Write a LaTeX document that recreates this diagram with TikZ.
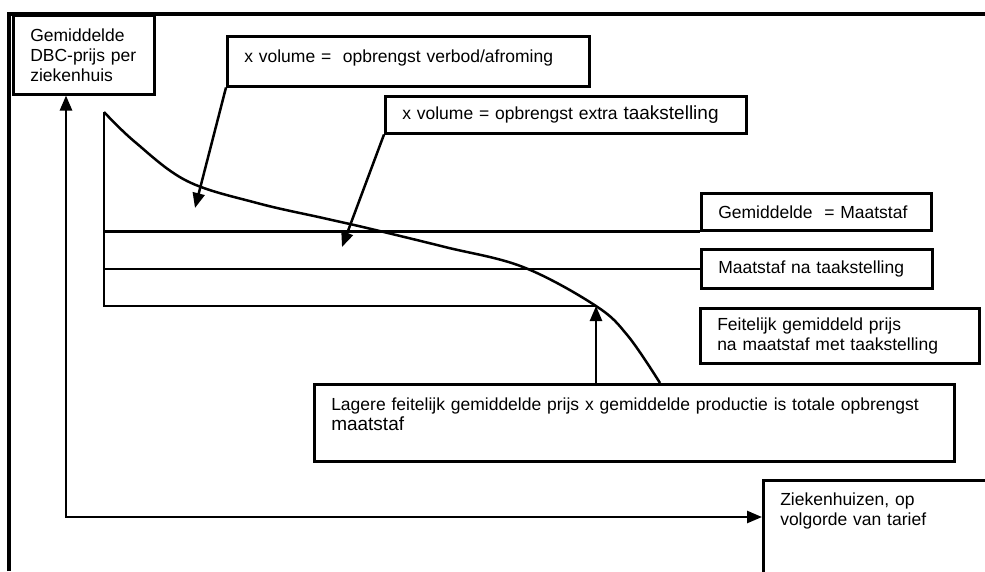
\documentclass[tikz,border=0pt]{standalone}
\usepackage{fontspec}
\setmainfont{Liberation Sans}
\usetikzlibrary{arrows,arrows.meta,positioning,calc}

\begin{document}
\begin{tikzpicture}
[x=1pt,y=-1pt,>={Triangle[length=15pt,width=12pt]},
every node/.style={font=\fontsize{17.5}{20}\selectfont},
vak/.style={draw=black,fill=white,line width=2.5pt,anchor=north west,align=left,inner xsep=17pt,inner ysep=0pt},
lijn/.style={line width=2.5pt},
pijl/.style={line width=2.5pt,->}]
\useasboundingbox[fill=white] (0,0) rectangle (985,571);
\draw[line width=4pt] (9,571) -- (9,14) -- (985,14);
\node[vak,text width=107pt,minimum height=79pt] (prijs) at (12,14) {Gemiddelde\\DBC-prijs per\\ziekenhuis};
\node[vak,text width=328pt,minimum height=50pt,text depth=10pt] (vol1) at (226,35) {x volume =\ \ opbrengst verbod/afroming};
\node[vak,text width=327pt,minimum height=37pt] (vol2) at (384,95) {x volume = opbrengst extra {\fontsize{19}{20}\selectfont taakstelling}};
\node[vak,text width=196pt,minimum height=37pt] (mt) at (700,192) {Gemiddelde\ \ = Maatstaf};
\node[vak,text width=197pt,minimum height=39pt] (mtn) at (700,248) {Maatstaf na taakstelling};
\node[vak,text width=245pt,minimum height=55pt] (feit) at (699,307) {Feitelijk gemiddeld prijs\\na maatstaf met taakstelling};
\node[vak,text width=606pt,minimum height=77pt,text depth=37pt] (lagere) at (313,383) {Lagere feitelijk gemiddelde prijs x gemiddelde productie is totale opbrengst\\{\fontsize{19}{20}\selectfont maatstaf}};
\node[vak,text width=220pt,minimum height=140pt,text depth=102pt] (zieken) at (762,479) {Ziekenhuizen, op\\volgorde van tarief};
\coordinate (oorsprong) at (66,517);
\coordinate (start) at (104,112);
\coordinate (feitpunt) at (596,306);
\coordinate (eind) at (660,383);
\coordinate (tip1) at (195,208);
\coordinate (tip2) at (342,247);
\draw[pijl,<->] (oorsprong |- prijs.south) -- (oorsprong) -- (zieken.west |- oorsprong);
\draw[lijn] (start) -- (start |- feitpunt) -- (feitpunt);
\draw[lijn] (start |- mt.south west) -- (mt.south west);
\draw[lijn] (start |- mtn.west) -- (mtn.west);
\draw[lijn] plot[smooth,tension=.6] coordinates {(start) (135,142) (187,181) (257,203) (323,218) (367,228) (445,247) (523,267) (596,306) (628,336) (eind)};
\draw[pijl] (vol1.south west) -- (tip1);
\draw[pijl] (vol2.south west) -- (tip2);
\draw[pijl] (lagere.north -| feitpunt) -- (feitpunt);
\end{tikzpicture}
\end{document}
